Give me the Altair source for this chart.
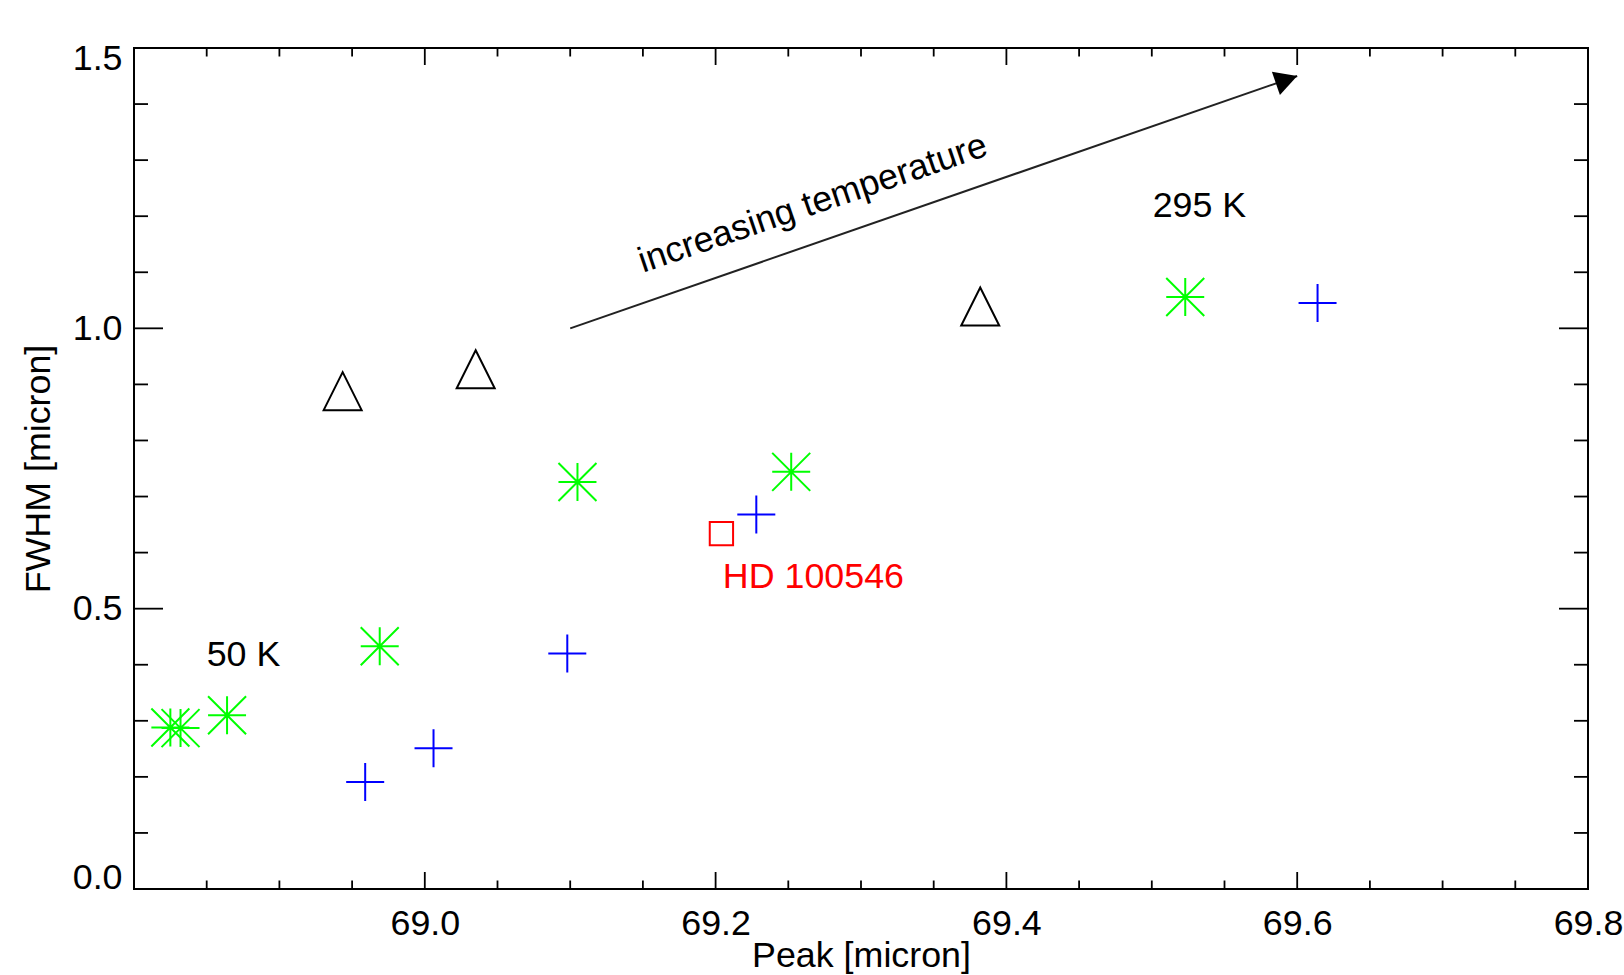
import altair as alt
import pandas as pd

# ---------------- data ----------------
green_x = [68.825, 68.832, 68.864, 68.969, 69.105, 69.252, 69.523]
green_y = [0.288, 0.287, 0.310, 0.433, 0.726, 0.744, 1.056]

blue_x = [68.959, 69.006, 69.098, 69.228, 69.614]
blue_y = [0.191, 0.251, 0.420, 0.668, 1.045]

tri_x = [68.9435, 69.035, 69.382]
tri_y = [0.888, 0.927, 1.039]

hd_x = [69.204]
hd_y = [0.634]

note_text = ["50 K", "295 K"]
note_x = [68.850, 69.5006]
note_y = [0.398, 1.199]

hd_text = ["HD 100546"]
hd_text_x = [69.205]
hd_text_y = [0.536]

arrow_x = [69.10]
arrow_y = [1.00]
arrow_x2 = [69.60]
arrow_y2 = [1.45]
arrow_label = ["increasing temperature"]
arrow_label_x = [69.150]
arrow_label_y = [1.099]

x_labels = [69.0, 69.2, 69.4, 69.6, 69.8]
x_major = [68.8, 69.0, 69.2, 69.4, 69.6, 69.8]
x_minor = [68.85, 68.9, 68.95, 69.05, 69.1, 69.15, 69.25, 69.3, 69.35,
           69.45, 69.5, 69.55, 69.65, 69.7, 69.75]
y_major = [0.0, 0.5, 1.0, 1.5]
y_minor = [0.1, 0.2, 0.3, 0.4, 0.6, 0.7, 0.8, 0.9, 1.1, 1.2, 1.3, 1.4]

# ---------------- layout ----------------
W, H = 1454, 841
FONT = "Liberation Sans"
FS = 35.8

xs = alt.Scale(domain=[68.8, 69.8], nice=False, zero=False)
ys = alt.Scale(domain=[0, 1.5], nice=False, zero=False)

x_axis = alt.Axis(values=x_labels, format=".1f", labelFont=FONT, labelFontSize=FS,
                  labelColor="black", ticks=False, tickSize=0, domain=False, grid=False,
                  labelPadding=17, labelFlush=False, labelOverlap=False,
                  title="Peak [micron]", titleFont=FONT, titleFontSize=FS,
                  titleFontWeight="normal", titleColor="black", titleY=77,
                  titleBaseline="alphabetic")
y_axis = alt.Axis(values=y_major, format=".1f", labelFont=FONT, labelFontSize=FS,
                  labelColor="black", ticks=False, tickSize=0, domain=False, grid=False,
                  labelPadding=12, labelFlush=True, labelFlushOffset=7, labelOverlap=False,
                  title="FWHM [micron]", titleFont=FONT, titleFontSize=FS,
                  titleFontWeight="normal", titleColor="black", titleX=-85,
                  titleY=H / 2, titleAngle=270, titleAlign="center",
                  titleBaseline="alphabetic")


def X(f):
    return alt.X(f, type="quantitative", scale=xs, axis=x_axis)


def Y(f):
    return alt.Y(f, type="quantitative", scale=ys, axis=y_axis)


ASTER = "M-1,0L1,0M0,-1L0,1M-1,-1L1,1M-1,1L1,-1"
PLUS = "M-1,0L1,0M0,-1L0,1"
TRI = "M0,-1L1,1L-1,1Z"
HEAD = "M0,0L-1.84,-1L-1.84,1Z"

green = alt.Chart(pd.DataFrame({"x": green_x, "y": green_y})).mark_point(
    shape=ASTER, size=1444, filled=False, stroke="#00ff00", strokeWidth=2, opacity=1
).encode(x=X("x"), y=Y("y"))

blue = alt.Chart(pd.DataFrame({"x": blue_x, "y": blue_y})).mark_point(
    shape=PLUS, size=1444, filled=False, stroke="#0000ff", strokeWidth=2, opacity=1
).encode(x=X("x"), y=Y("y"))

tri = alt.Chart(pd.DataFrame({"x": tri_x, "y": tri_y})).mark_point(
    shape=TRI, size=1444, filled=False, stroke="black", strokeWidth=2, opacity=1
).encode(x=X("x"), y=Y("y"))

hd = alt.Chart(pd.DataFrame({"x": hd_x, "y": hd_y})).mark_point(
    shape="square", size=544, filled=False, stroke="#ff0000", strokeWidth=2, opacity=1
).encode(x=X("x"), y=Y("y"))

notes = alt.Chart(pd.DataFrame({"t": note_text, "x": note_x, "y": note_y})).mark_text(
    font=FONT, fontSize=FS, color="black", align="left", baseline="alphabetic"
).encode(x=X("x"), y=Y("y"), text="t:N")

hdt = alt.Chart(pd.DataFrame({"t": hd_text, "x": hd_text_x, "y": hd_text_y})).mark_text(
    font=FONT, fontSize=FS, color="#ff0000", align="left", baseline="alphabetic"
).encode(x=X("x"), y=Y("y"), text="t:N")

arrow_df = pd.DataFrame({"x": arrow_x, "y": arrow_y, "x2": arrow_x2, "y2": arrow_y2})
arrow_line = alt.Chart(arrow_df).mark_rule(color="#222222", strokeWidth=2).encode(
    x=X("x"), y=Y("y"), x2="x2:Q", y2="y2:Q")
arrow_head = alt.Chart(arrow_df).mark_point(
    shape=HEAD, size=600, filled=True, color="black", opacity=1, angle=340.9
).encode(x=X("x2"), y=Y("y2"))

arrow_txt = alt.Chart(pd.DataFrame({"t": arrow_label, "x": arrow_label_x,
                                    "y": arrow_label_y})).mark_text(
    font=FONT, fontSize=FS, color="black", align="left", baseline="alphabetic", angle=341.2
).encode(x=X("x"), y=Y("y"), text="t:N")

# ---------------- inward ticks on all four sides ----------------
TK = dict(color="black", strokeWidth=1.8)


def xticks(vals, length):
    d = pd.DataFrame({"v": vals})
    b = alt.Chart(d).mark_rule(**TK).encode(
        x=X("v"), y=alt.value(H), y2=alt.value(H - length))
    t = alt.Chart(d).mark_rule(**TK).encode(
        x=X("v"), y=alt.value(0), y2=alt.value(length))
    return [b, t]


def yticks(vals, length):
    d = pd.DataFrame({"v": vals})
    l = alt.Chart(d).mark_rule(**TK).encode(
        y=Y("v"), x=alt.value(0), x2=alt.value(length))
    r = alt.Chart(d).mark_rule(**TK).encode(
        y=Y("v"), x=alt.value(W), x2=alt.value(W - length))
    return [l, r]


ticks = xticks(x_major, 17) + xticks(x_minor, 8.5) + yticks(y_major, 29) + yticks(y_minor, 14)

chart = alt.layer(
    *ticks, arrow_line, arrow_head, arrow_txt, tri, green, blue, hd, notes, hdt
).properties(
    width=W, height=H,
    autosize=alt.AutoSizeParams(type="none"),
    padding={"left": 134, "top": 48, "right": 36, "bottom": 86},
    background="white",
).configure_view(stroke="black", strokeWidth=2)

chart.save("out.html", embed_options={"renderer": "svg", "actions": False})
